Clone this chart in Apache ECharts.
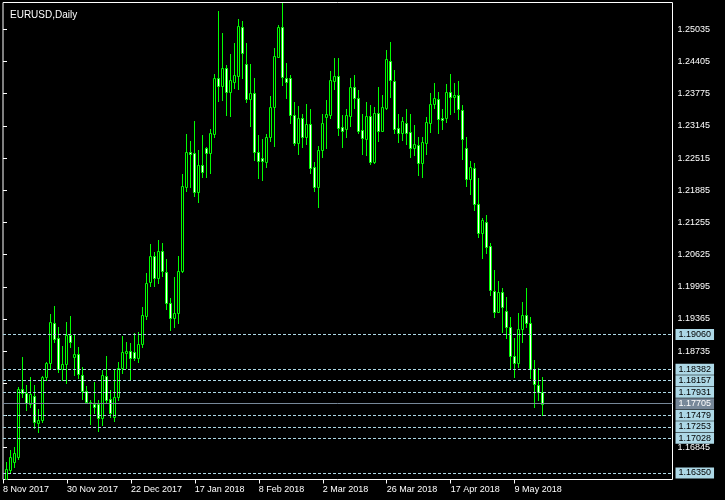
<!DOCTYPE html>
<html><head><meta charset="utf-8">
<script src="https://cdn.jsdelivr.net/npm/echarts@6/dist/echarts.min.js"></script>
<style>html,body{margin:0;padding:0;background:#000}#c{width:725px;height:500px}</style>
</head><body><div id="c"></div>
<script>
const chartTitle = 'EURUSD,Daily';
const dateLabels = ['8 Nov 2017','30 Nov 2017','22 Dec 2017','17 Jan 2018','8 Feb 2018','2 Mar 2018','26 Mar 2018','17 Apr 2018','9 May 2018'];
const dateTickIndex = [0,16,32,48,64,80,96,112,128];
const priceTicks = [1.25035,1.24405,1.23775,1.23145,1.22515,1.21885,1.21255,1.20625,1.19995,1.19365,1.18735,1.18105,1.17475,1.16845];
const levelLines = [1.19060,1.18382,1.18157,1.17931,1.17479,1.17253,1.17028,1.16350];
const bidPrice = 1.17705;

const open = [1.15870,1.15930,1.16408,1.16570,1.16668,1.17988,1.17909,1.17700,1.17862,1.17333,
1.17386,1.18223,1.18497,1.19280,1.18986,1.18379,1.18477,1.19050,1.18626,1.18679,
1.18268,1.17960,1.17745,1.17694,1.17700,1.17420,1.18254,1.17792,1.17440,1.17831,
1.18399,1.18692,1.18743,1.18724,1.18594,1.18868,1.19428,1.20094,1.20597,1.20160,
1.20695,1.20278,1.19673,1.19380,1.19475,1.20309,1.21942,1.22627,1.22608,1.21844,
1.22373,1.22706,1.22620,1.22980,1.24076,1.23931,1.24272,1.23814,1.24010,1.24121,
1.25075,1.24350,1.23665,1.23783,1.22627,1.22510,1.22443,1.22921,1.23509,1.24499,
1.25075,1.24076,1.24076,1.23358,1.22815,1.23293,1.22933,1.23182,1.22334,1.21943,
1.22672,1.23325,1.23358,1.24030,1.24121,1.23129,1.23089,1.23344,1.23912,1.23685,
1.23064,1.22882,1.23344,1.22444,1.23391,1.23050,1.23489,1.24421,1.24023,1.23097,
1.23011,1.23195,1.23019,1.22706,1.22770,1.22412,1.22804,1.23195,1.23573,1.23665,
1.23293,1.23293,1.23802,1.23704,1.23749,1.23456,1.22706,1.22099,1.22314,1.21609,
1.21041,1.21257,1.20793,1.19918,1.19507,1.19886,1.19520,1.19213,1.18645,1.18508,
1.19162,1.19442,1.19280,1.18379,1.18072,1.17941];
const high = [1.16030,1.16558,1.16799,1.16864,1.18038,1.18614,1.18072,1.18222,1.18072,1.17602,
1.18248,1.18528,1.19462,1.19618,1.19213,1.18835,1.19311,1.19422,1.19050,1.18821,
1.18430,1.18052,1.17778,1.18136,1.17778,1.18365,1.18639,1.17974,1.18365,1.18528,
1.19030,1.18920,1.18888,1.19084,1.19115,1.19605,1.20258,1.20832,1.20681,1.20910,
1.20846,1.20538,1.19775,1.20192,1.20597,1.22203,1.22986,1.22849,1.23240,1.22672,
1.22966,1.22737,1.23084,1.24160,1.25394,1.24969,1.24337,1.24552,1.24773,1.25237,
1.25198,1.24773,1.24356,1.24076,1.22966,1.22888,1.22986,1.23730,1.24664,1.25120,
1.25556,1.24370,1.24141,1.23618,1.23534,1.23377,1.23573,1.23469,1.22443,1.22751,
1.23377,1.23651,1.24219,1.24468,1.24468,1.23358,1.23469,1.24076,1.24141,1.23847,
1.23377,1.23606,1.23554,1.23508,1.23900,1.23749,1.24630,1.24781,1.24239,1.23377,
1.23313,1.23475,1.23377,1.23162,1.22921,1.22921,1.23313,1.23794,1.23990,1.23814,
1.23475,1.23965,1.24160,1.23990,1.24023,1.23554,1.22921,1.22463,1.22412,1.22118,
1.21335,1.21400,1.20858,1.20323,1.20108,1.19977,1.19789,1.19409,1.18998,1.19487,
1.19703,1.19977,1.19409,1.18561,1.18399,1.18235];
const low = [1.15550,1.15750,1.16343,1.16472,1.16617,1.17842,1.17582,1.17647,1.17224,1.17145,
1.17353,1.18170,1.18379,1.18919,1.18332,1.18170,1.18105,1.18822,1.18268,1.18203,
1.17798,1.17713,1.17308,1.17518,1.17177,1.17289,1.17713,1.17440,1.17373,1.17778,
1.18301,1.18399,1.18170,1.18561,1.18528,1.18821,1.19364,1.20016,1.20016,1.20063,
1.20206,1.19560,1.19148,1.19213,1.19291,1.20290,1.21876,1.21942,1.21778,1.21660,
1.22150,1.22150,1.22228,1.22921,1.23638,1.23651,1.23358,1.23338,1.23880,1.23861,
1.24076,1.23618,1.23142,1.22477,1.22118,1.22085,1.22346,1.22855,1.22751,1.24487,
1.23945,1.23685,1.23207,1.22770,1.22594,1.22737,1.22790,1.22216,1.21876,1.21551,
1.22530,1.22706,1.23293,1.23861,1.22966,1.22737,1.22921,1.23148,1.23489,1.23011,
1.22594,1.22575,1.22398,1.22424,1.22854,1.23040,1.23469,1.23716,1.23011,1.22835,
1.22868,1.22790,1.22541,1.22575,1.22183,1.22150,1.22594,1.23031,1.23489,1.23000,
1.23078,1.23227,1.23377,1.23422,1.23274,1.22490,1.21968,1.21811,1.21498,1.20975,
1.20564,1.20650,1.19834,1.19397,1.19495,1.19115,1.18986,1.18385,1.18234,1.18430,
1.18919,1.19213,1.18203,1.17635,1.17778,1.17478];
const close = [1.15930,1.16421,1.16668,1.16746,1.17988,1.17921,1.17713,1.17889,1.17341,1.17386,
1.18223,1.18497,1.19299,1.18972,1.18379,1.18477,1.19050,1.18920,1.18679,1.18287,
1.17960,1.17733,1.17740,1.17647,1.17420,1.18268,1.17778,1.17518,1.17831,1.18399,
1.18712,1.18743,1.18594,1.18594,1.18868,1.19442,1.20063,1.20597,1.20160,1.20695,
1.20309,1.19671,1.19380,1.19475,1.20309,1.21977,1.22627,1.22594,1.21844,1.22373,
1.22236,1.22620,1.23000,1.24076,1.23931,1.24272,1.23814,1.24043,1.24141,1.25100,
1.24566,1.23671,1.23783,1.22639,1.22463,1.22463,1.22933,1.23509,1.24513,1.25075,
1.24108,1.24010,1.23358,1.22815,1.23293,1.22933,1.23182,1.22326,1.21943,1.22672,
1.23195,1.23377,1.24043,1.24121,1.23109,1.23050,1.23358,1.23912,1.23685,1.23050,
1.22902,1.23344,1.22444,1.23391,1.23050,1.23520,1.24448,1.24043,1.23078,1.23011,
1.23240,1.23011,1.22706,1.22790,1.22412,1.22823,1.23215,1.23573,1.23685,1.23274,
1.23260,1.23802,1.23704,1.23749,1.23469,1.22882,1.22099,1.22334,1.21615,1.21041,
1.21302,1.20779,1.19932,1.19507,1.19886,1.19605,1.19213,1.18645,1.18508,1.19162,
1.19442,1.19280,1.18379,1.18085,1.17941,1.17705];

const candleData = open.map((o, i) => [i, o, high[i], low[i], close[i]]);
const FONT = 'Liberation Sans';

function renderItem(params, api) {
  const k = api.value(0), o = api.value(1), h = api.value(2), l = api.value(3), c = api.value(4);
  const pO = api.coord([k, o]), pC = api.coord([k, c]);
  const yH = api.coord([k, h])[1], yL = api.coord([k, l])[1];
  const x = Math.floor(pO[0]) + 0.5;
  const top = Math.round(Math.min(pO[1], pC[1])) + 0.5;
  const bot = Math.round(Math.max(pO[1], pC[1])) + 0.5;
  const bull = c >= o;
  return {
    type: 'group',
    children: [
      { type: 'line', shape: { x1: x, y1: Math.round(yH), x2: x, y2: Math.round(yL) + 1 },
        style: { stroke: '#00ff00', lineWidth: 1 } },
      { type: 'rect', shape: { x: x - 1, y: top, width: 2, height: Math.max(bot - top, 0) },
        style: { fill: bull ? '#000000' : '#ffffff', stroke: '#00ff00', lineWidth: 1 } }
    ]
  };
}

const lineLabel = (bg, fg) => ({
  show: true, position: 'end', distance: 3,
  formatter: p => Number(p.value).toFixed(5),
  backgroundColor: bg, color: fg, padding: [1, 3, 1, 3],
  fontSize: 9, lineHeight: 9, fontFamily: FONT
});

const markData = levelLines.map(v => ({
  yAxis: v,
  lineStyle: { color: '#add8e6', type: [3, 2], width: 1 },
  label: lineLabel('#add8e6', '#000000')
})).concat([{
  yAxis: bidPrice,
  lineStyle: { color: '#778899', type: 'solid', width: 1 },
  label: lineLabel('#778899', '#ffffff')
}]);

const chart = echarts.init(document.getElementById('c'), null, { renderer: 'canvas' });
chart.setOption({
  backgroundColor: '#000000',
  animation: false,
  title: { text: chartTitle, left: 5, top: 5,
    textStyle: { color: '#ffffff', fontSize: 10, fontWeight: 'normal', fontFamily: FONT } },
  grid: { left: 2.5, top: 2.5, width: 670, height: 477, show: true,
    borderColor: '#ffffff', borderWidth: 1, backgroundColor: '#000000' },
  xAxis: {
    type: 'value', min: 0, max: 167.5,
    axisLine: { show: false },
    splitLine: { show: false },
    axisTick: { show: true, length: 4, lineStyle: { color: '#ffffff' }, customValues: dateTickIndex },
    axisLabel: { color: '#ffffff', fontSize: 9, fontFamily: FONT, align: 'left', margin: 6,
      customValues: dateTickIndex,
      formatter: v => dateLabels[dateTickIndex.indexOf(Math.round(v))] || '' }
  },
  yAxis: {
    type: 'value', position: 'right', min: 1.162218, max: 1.255603, scale: true,
    axisLine: { show: false },
    splitLine: { show: false },
    axisTick: { show: true, length: 4, lineStyle: { color: '#ffffff' }, customValues: priceTicks },
    axisLabel: { color: '#ffffff', fontSize: 9, fontFamily: FONT, margin: 5,
      customValues: priceTicks, formatter: v => Number(v).toFixed(5) }
  },
  series: [{
    type: 'custom',
    renderItem: renderItem,
    clip: true,
    encode: { x: 0, y: [1, 2, 3, 4] },
    data: candleData,
    silent: true,
    markLine: { silent: true, symbol: ['none', 'none'], animation: false, precision: 5, data: markData }
  }]
});
</script>
</body></html>
